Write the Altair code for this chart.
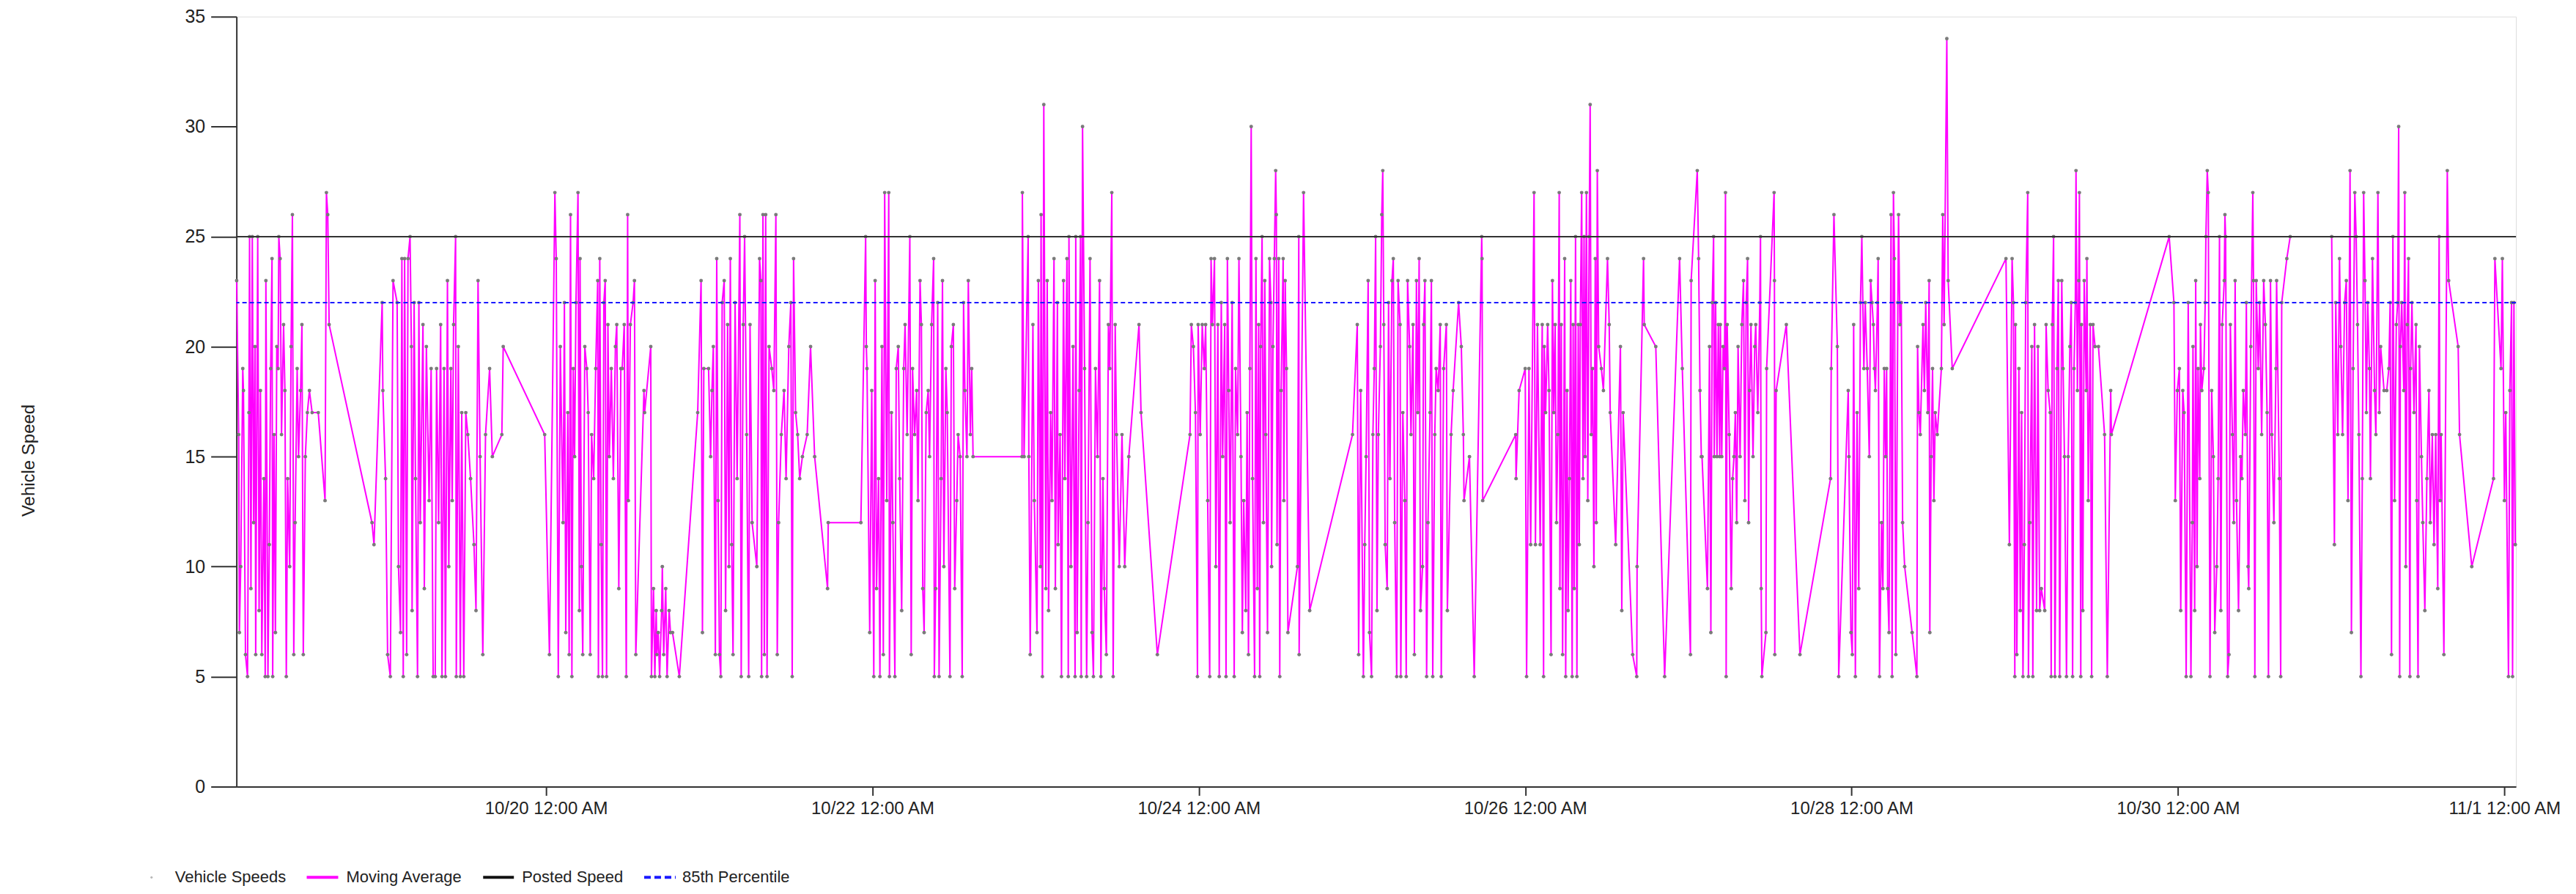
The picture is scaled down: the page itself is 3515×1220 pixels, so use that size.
import altair as alt
import pandas as pd

# ---------------- data (hours since 10/18 00:00, speed) ----------------
START = "2019-10-18T00:00:00"

seg_1018_1019 = [
    (2.5, 23), (2.8, 16), (2.9, 7), (3.1, 10), (3.4, 19), (3.5, 18), (3.8, 6), (4.1, 5), (4.3, 17), (4.4, 25),
    (4.6, 9), (4.8, 25), (5.0, 12), (5.2, 20), (5.3, 6), (5.6, 25), (5.8, 8), (6.0, 18), (6.2, 6), (6.5, 14),
    (6.7, 5), (6.8, 23), (7.1, 5), (7.3, 11), (7.5, 19), (7.7, 24), (7.8, 5), (8.0, 16), (8.2, 7), (8.4, 20),
    (8.6, 19), (8.7, 25), (8.9, 24), (9.1, 16), (9.4, 21), (9.6, 18), (9.8, 5), (10.0, 14), (10.3, 10), (10.5, 20),
    (10.7, 26), (10.9, 6), (11.1, 12), (11.4, 19), (11.6, 15), (11.9, 18), (12.1, 21), (12.3, 6), (12.6, 15), (12.9, 17),
    (13.2, 18), (13.6, 17), (14.5, 17), (15.5, 13), (15.7, 27), (15.9, 26), (16.1, 21),
    (22.4, 12), (22.7, 11), (23.9, 22), (24.0, 18), (24.4, 14), (24.7, 6), (25.1, 5), (25.5, 23), (26.1, 22), (26.3, 10),
    (26.6, 7), (26.8, 24), (27.0, 5), (27.2, 24), (27.5, 6), (27.7, 24), (28.0, 25), (28.2, 20), (28.3, 8), (28.6, 22),
    (28.8, 14), (29.1, 5), (29.3, 22), (29.5, 12), (29.9, 21), (30.1, 9), (30.4, 20), (30.8, 13), (31.1, 19), (31.4, 5),
    (31.7, 5), (31.9, 19), (32.2, 12), (32.5, 21), (32.7, 5), (33.0, 19), (33.2, 5), (33.5, 23), (33.7, 10), (34.0, 19),
    (34.2, 13), (34.4, 21), (34.7, 25), (34.8, 5), (35.1, 20), (35.4, 5), (35.6, 17), (35.9, 5), (36.2, 17), (36.5, 16),
    (36.9, 14), (37.4, 11), (37.7, 8), (38.0, 23), (38.3, 15), (38.7, 6), (39.1, 16), (39.7, 19), (40.1, 15), (41.5, 16),
    (41.7, 20), (47.8, 16), (48.5, 6), (49.3, 27), (49.5, 24), (49.8, 5), (50.1, 20),
]

seg_1020_1021 = [
    (50.5, 12), (50.7, 22), (50.9, 7), (51.2, 17), (51.4, 6), (51.6, 26), (51.8, 5), (52.0, 19), (52.2, 15), (52.4, 22),
    (52.7, 27), (52.9, 8), (53.0, 24), (53.2, 10), (53.4, 6), (53.7, 20), (54.0, 19), (54.2, 17), (54.5, 6), (54.7, 16),
    (55.0, 14), (55.3, 19), (55.6, 23), (55.7, 5), (55.9, 24), (56.1, 11), (56.3, 5), (56.5, 22), (56.7, 23), (56.9, 5),
    (57.1, 21), (57.3, 15), (57.6, 19), (57.9, 14), (58.2, 20), (58.4, 21), (58.7, 9), (59.0, 19), (59.2, 19), (59.5, 21),
    (59.8, 5), (60.0, 26), (60.1, 13), (60.4, 21), (60.8, 22), (61.0, 23), (61.2, 6), (62.4, 18), (62.5, 17), (63.4, 20),
    (63.5, 5), (63.8, 9), (64.0, 5), (64.2, 8), (64.3, 6), (64.5, 7), (64.7, 5), (65.0, 8), (65.1, 10), (65.3, 6),
    (65.6, 9), (65.8, 5), (66.1, 8), (66.3, 7), (66.6, 7), (67.6, 5), (70.3, 17), (70.8, 23), (71.0, 7), (71.2, 19),
    (71.9, 19), (72.2, 15), (72.4, 18), (72.6, 20), (72.9, 6), (73.1, 24), (73.3, 13), (73.5, 6), (73.7, 5), (73.9, 22),
    (74.2, 23), (74.4, 8), (74.7, 21), (74.9, 10), (75.1, 24), (75.3, 11), (75.5, 6), (75.8, 22), (76.1, 14), (76.5, 26),
    (76.7, 5), (77.0, 21), (77.2, 25), (77.5, 16), (77.8, 5), (78.0, 21), (78.3, 12), (79.0, 10), (79.4, 24), (79.6, 23),
    (79.7, 5), (79.9, 26), (80.1, 6), (80.3, 26), (80.5, 5), (80.8, 20), (81.2, 19), (81.5, 18), (81.8, 26), (82.0, 6),
    (82.2, 12), (82.6, 16), (83.0, 18), (83.3, 14), (83.7, 20), (84.0, 22), (84.2, 5), (84.4, 24), (84.7, 17), (85.0, 16),
    (85.3, 14), (85.7, 15), (86.4, 16), (86.9, 20), (87.5, 15), (89.4, 9), (89.5, 12), (94.3, 12), (95.0, 25), (95.1, 20),
    (95.2, 19), (95.6, 7), (95.9, 18), (96.2, 5), (96.4, 23), (96.6, 9), (96.9, 14), (97.1, 5), (97.4, 20), (97.6, 6),
    (97.8, 27), (98.1, 13),
]

seg_1022_1023 = [
    (98.4, 27), (98.5, 5), (98.8, 17), (99.0, 12), (99.3, 5), (99.5, 19), (99.8, 20), (100.0, 14), (100.3, 8), (100.6, 19),
    (100.8, 21), (101.1, 16), (101.5, 25), (101.7, 6), (101.9, 19), (102.2, 16), (102.5, 18), (102.7, 13), (103.0, 23), (103.2, 21),
    (103.4, 9), (103.6, 7), (103.9, 17), (104.2, 18), (104.4, 15), (104.7, 21), (105.0, 24), (105.1, 5), (105.3, 9), (105.6, 22),
    (105.8, 5), (106.1, 14), (106.3, 23), (106.5, 10), (106.8, 19), (107.0, 17), (107.4, 5), (107.6, 20), (107.9, 21), (108.1, 9),
    (108.4, 13), (108.6, 16), (108.9, 15), (109.2, 5), (109.4, 22), (109.6, 18), (109.9, 15), (110.1, 23), (110.4, 16), (110.6, 19),
    (110.8, 15), (118.0, 15), (118.05, 27), (118.3, 15), (118.9, 25), (119.0, 15), (119.2, 6), (119.6, 21), (119.8, 13), (120.2, 7),
    (120.4, 23), (120.7, 10), (120.8, 26), (121.0, 5), (121.2, 31), (121.5, 9), (121.7, 23), (121.9, 8), (122.2, 17), (122.4, 13),
    (122.7, 24), (122.9, 9), (123.2, 22), (123.3, 11), (123.6, 16), (123.8, 5), (124.1, 23), (124.3, 14), (124.6, 24), (124.8, 5),
    (124.9, 25), (125.2, 10), (125.5, 20), (125.8, 5), (125.9, 25), (126.1, 7), (126.4, 18), (126.6, 25), (126.7, 5), (126.9, 30),
    (127.2, 19), (127.5, 5), (127.7, 12), (128.0, 24), (128.3, 7), (128.5, 5), (128.8, 19), (129.1, 15), (129.4, 23), (129.6, 5),
    (129.9, 14), (130.1, 9), (130.4, 6), (130.7, 21), (130.9, 19), (131.2, 27), (131.4, 5), (131.7, 21), (131.9, 16), (132.3, 10),
    (132.7, 16), (133.1, 10), (133.7, 15), (135.2, 21), (135.5, 17), (137.9, 6), (142.7, 16), (142.9, 21), (143.2, 20), (143.5, 17),
    (143.8, 5), (143.9, 21), (144.2, 16), (144.5, 21), (144.8, 19), (145.0, 21), (145.3, 13), (145.6, 5), (145.8, 24), (146.0, 21),
]

seg_1024_1025 = [
    (146.3, 24), (146.5, 10), (146.8, 21), (147.0, 5), (147.3, 22), (147.5, 15), (147.8, 21), (148.0, 5), (148.2, 24), (148.4, 18),
    (148.6, 12), (148.9, 22), (149.2, 5), (149.4, 19), (149.7, 16), (149.9, 24), (150.2, 15), (150.4, 7), (150.6, 13), (150.9, 8),
    (151.1, 17), (151.3, 6), (151.5, 19), (151.7, 30), (151.9, 14), (152.2, 5), (152.4, 24), (152.6, 9), (152.8, 21), (152.95, 5),
    (153.1, 20), (153.3, 25), (153.5, 12), (153.7, 23), (153.85, 16), (154.1, 7), (154.4, 24), (154.6, 22), (154.7, 10), (154.9, 20),
    (155.1, 24), (155.3, 28), (155.4, 26), (155.5, 11), (155.75, 24), (155.9, 5), (156.1, 18), (156.4, 24), (156.5, 13), (156.7, 23),
    (156.9, 19), (157.1, 7), (158.5, 10), (158.7, 25), (158.75, 6), (159.4, 27), (160.3, 8), (166.6, 16), (167.3, 21), (167.5, 6),
    (167.8, 18), (168.2, 5), (168.4, 11), (168.6, 15), (168.9, 23), (169.1, 7), (169.4, 5), (169.6, 16), (169.8, 19), (170.0, 25),
    (170.2, 8), (170.4, 16), (170.7, 20), (170.9, 26), (171.05, 28), (171.2, 21), (171.4, 11), (171.7, 9), (171.9, 22), (172.1, 14),
    (172.4, 23), (172.6, 24), (172.8, 12), (173.1, 5), (173.3, 23), (173.6, 21), (173.7, 5), (174.0, 17), (174.3, 13), (174.5, 5),
    (174.7, 23), (175.0, 20), (175.2, 16), (175.5, 21), (175.7, 6), (176.0, 23), (176.2, 17), (176.4, 24), (176.6, 8), (176.9, 10),
    (177.05, 21), (177.25, 23), (177.5, 5), (177.7, 12), (178.0, 17), (178.2, 23), (178.4, 5), (178.7, 16), (178.9, 19), (179.2, 18),
    (179.5, 21), (179.65, 5), (180.0, 19), (180.4, 21), (180.55, 8), (181.1, 16), (181.4, 18), (182.2, 22), (182.6, 20), (182.9, 16),
    (183.0, 13), (183.8, 15), (184.5, 5), (185.6, 25), (185.65, 24), (185.75, 13), (190.6, 16), (190.65, 14), (191.1, 18), (192.0, 19),
    (192.2, 5), (192.55, 19), (192.8, 11), (193.3, 27), (193.5, 11), (193.8, 21),
]

seg_1026_1027 = [
    (194.2, 11), (194.5, 21), (194.7, 5), (194.8, 20), (195.0, 17), (195.3, 21), (195.5, 18), (195.8, 6), (196.0, 23), (196.2, 17),
    (196.4, 21), (196.6, 12), (196.8, 16), (197.0, 27), (197.1, 9), (197.3, 21), (197.5, 6), (197.8, 24), (197.95, 5), (198.15, 18),
    (198.3, 8), (198.5, 14), (198.7, 23), (198.9, 5), (199.05, 21), (199.2, 9), (199.4, 25), (199.6, 5), (199.8, 21), (199.95, 11),
    (200.1, 21), (200.3, 27), (200.5, 14), (200.65, 25), (200.8, 15), (201.0, 27), (201.2, 13), (201.4, 25), (201.55, 31), (201.7, 16),
    (201.9, 19), (202.1, 10), (202.3, 24), (202.45, 12), (202.6, 28), (202.8, 20), (203.2, 19), (203.5, 18), (204.1, 24), (204.35, 21),
    (204.5, 17), (205.3, 11), (206.0, 20), (206.2, 8), (206.4, 17), (207.8, 6), (208.4, 5), (208.45, 10), (209.4, 24), (209.5, 21),
    (211.2, 20), (212.5, 5), (214.7, 24), (215.1, 19), (216.3, 6), (216.4, 23), (217.3, 28), (217.5, 24), (217.7, 18), (217.9, 15),
    (218.0, 15), (218.8, 9), (219.1, 20), (219.3, 7), (219.5, 22), (219.7, 25), (219.8, 15), (220.0, 22), (220.2, 15), (220.4, 21),
    (220.6, 15), (220.7, 21), (220.9, 15), (221.1, 20), (221.3, 19), (221.45, 27), (221.55, 5), (221.7, 21), (222.0, 16), (222.3, 9),
    (222.5, 14), (222.7, 15), (222.9, 17), (223.1, 12), (223.3, 20), (223.6, 15), (223.85, 21), (224.1, 23), (224.3, 13), (224.5, 22),
    (224.7, 24), (224.85, 12), (225.0, 18), (225.2, 21), (225.5, 15), (225.75, 20), (225.9, 21), (226.2, 17), (226.5, 22), (226.6, 25),
    (226.7, 9), (226.8, 5), (227.4, 7), (227.5, 19), (228.6, 27), (228.65, 23), (228.7, 6), (228.9, 18), (230.4, 21), (232.4, 6),
    (236.9, 14), (237.0, 19), (237.4, 26), (237.9, 20), (238.1, 5), (239.5, 18), (239.6, 15), (239.9, 7), (240.1, 6), (240.3, 21),
    (240.55, 5), (240.8, 17), (241.05, 9), (241.3, 22), (241.5, 25), (241.8, 19),
]

seg_1028_1029 = [
    (242.0, 22), (242.3, 19), (242.6, 15), (242.8, 23), (243.0, 22), (243.2, 21), (243.35, 19), (243.5, 18), (243.8, 22), (243.9, 24),
    (244.1, 5), (244.4, 12), (244.6, 9), (244.8, 19), (245.0, 15), (245.15, 19), (245.3, 9), (245.5, 7), (245.8, 26), (245.95, 5),
    (246.15, 27), (246.3, 24), (246.5, 6), (246.8, 22), (246.9, 26), (247.1, 21), (247.3, 22), (247.5, 12), (247.8, 10), (248.9, 7),
    (249.6, 5), (249.7, 20), (249.9, 17), (250.1, 16), (250.5, 21), (250.7, 18), (250.9, 22), (251.2, 17), (251.4, 23), (251.5, 7),
    (251.7, 15), (251.9, 19), (252.1, 13), (252.3, 17), (252.6, 16), (253.2, 19), (253.4, 26), (253.6, 21), (254.0, 34), (254.2, 23),
    (254.8, 19), (262.7, 24), (263.2, 11), (263.6, 24), (263.8, 22), (264.0, 5), (264.1, 21), (264.3, 6), (264.6, 19), (264.8, 8),
    (265.0, 17), (265.2, 5), (265.4, 11), (265.6, 22), (265.9, 27), (266.0, 5), (266.2, 12), (266.5, 20), (266.65, 5), (266.9, 21),
    (267.2, 8), (267.4, 20), (267.65, 8), (267.9, 9), (268.4, 8), (268.6, 21), (268.9, 18), (269.2, 17), (269.35, 5), (269.5, 21),
    (269.7, 25), (269.9, 5), (270.2, 19), (270.4, 23), (270.6, 5), (270.9, 23), (271.1, 19), (271.3, 15), (271.6, 5), (271.85, 15),
    (272.1, 20), (272.3, 22), (272.5, 5), (272.7, 19), (272.9, 22), (273.0, 28), (273.2, 18), (273.4, 23), (273.5, 27), (273.7, 5),
    (273.8, 21), (274.0, 8), (274.2, 23), (274.5, 18), (274.6, 24), (274.8, 13), (275.1, 21), (275.3, 5), (275.5, 21), (275.8, 20),
    (276.3, 20), (277.2, 16), (277.6, 5), (278.1, 18), (278.2, 16), (286.7, 25), (287.4, 22), (287.6, 13), (287.9, 18), (288.2, 19),
    (288.4, 8), (288.7, 18), (288.9, 17), (289.2, 5), (289.5, 22),
]

seg_1030_1101 = [
    (289.9, 5), (290.1, 12), (290.2, 20), (290.45, 8), (290.6, 23), (290.8, 10), (290.95, 19), (291.2, 14), (291.3, 21), (291.5, 18),
    (291.8, 19), (292.0, 22), (292.1, 25), (292.3, 28), (292.45, 27), (292.7, 5), (292.95, 18), (293.2, 15), (293.4, 7), (293.7, 10),
    (293.9, 14), (294.1, 25), (294.3, 8), (294.5, 21), (294.8, 23), (294.9, 26), (295.0, 25), (295.3, 5), (295.5, 6), (295.7, 21),
    (296.0, 16), (296.2, 12), (296.4, 23), (296.6, 13), (296.9, 8), (297.2, 15), (297.4, 14), (297.6, 18), (297.9, 16), (298.05, 22),
    (298.3, 10), (298.4, 9), (298.7, 20), (299.0, 27), (299.1, 23), (299.3, 5), (299.5, 23), (299.8, 19), (300.0, 22), (300.3, 16),
    (300.6, 23), (300.85, 21), (301.1, 17), (301.3, 5), (301.6, 23), (301.8, 16), (302.1, 12), (302.4, 19), (302.5, 23), (302.9, 14),
    (303.1, 5), (303.25, 22), (304.0, 24), (304.5, 25), (310.6, 25), (311.0, 11), (311.2, 22), (311.5, 16), (311.75, 24), (311.95, 20),
    (312.2, 16), (312.5, 22), (312.75, 23), (313.0, 13), (313.3, 28), (313.5, 7), (313.75, 19), (314.0, 27), (314.2, 25), (314.4, 21),
    (314.6, 16), (314.9, 5), (315.1, 14), (315.3, 27), (315.5, 23), (315.7, 17), (315.9, 22), (316.15, 19), (316.3, 14), (316.6, 24),
    (316.9, 18), (317.1, 16), (317.4, 27), (317.6, 17), (317.8, 20), (318.3, 18), (318.7, 18), (319.0, 19), (319.2, 22), (319.4, 6),
    (319.6, 25), (319.85, 13), (320.1, 21), (320.3, 22), (320.45, 30), (320.6, 5), (320.7, 20), (320.9, 22), (321.2, 18), (321.35, 27),
    (321.5, 10), (321.7, 21), (321.9, 24), (322.1, 5), (322.2, 19), (322.4, 22), (322.7, 17), (323.0, 21), (323.1, 13), (323.3, 5),
    (323.5, 20), (323.8, 15), (324.0, 12), (324.3, 8), (324.6, 14), (324.9, 18), (325.1, 12), (325.4, 16), (325.65, 11), (325.9, 16),
    (326.2, 9), (326.4, 25), (326.55, 13), (326.7, 16), (327.1, 6), (327.6, 28), (327.8, 23), (329.2, 20), (329.4, 16), (331.2, 10),
    (334.4, 14), (334.6, 24), (335.5, 19), (335.7, 24), (336.0, 13), (336.2, 17), (336.6, 5), (336.8, 18), (337.05, 22), (337.2, 5),
    (337.4, 22), (337.6, 11),
]

posted_speed = 25
percentile_85 = 22
x_domain_hours = [2.47, 337.7]
tick_dates = ["2019-10-20", "2019-10-22", "2019-10-24", "2019-10-26", "2019-10-28", "2019-10-30", "2019-11-01"]
y_ticks = [0, 5, 10, 15, 20, 25, 30, 35]
legend_labels = ["Vehicle Speeds", "Moving Average", "Posted Speed", "85th Percentile"]
y_title = "Vehicle Speed"

# ---------------- build table ----------------
pairs = (seg_1018_1019 + seg_1020_1021 + seg_1022_1023 + seg_1024_1025
         + seg_1026_1027 + seg_1028_1029 + seg_1030_1101)
base = pd.Timestamp(START, tz="UTC")


def to_ms(h):
    return int((base + pd.Timedelta(hours=h)).value // 10**6)


df = pd.DataFrame({
    "t": [to_ms(h) for h, _ in pairs],
    "speed": [s for _, s in pairs],
    "idx": list(range(len(pairs))),
})
tick_ms = [int(pd.Timestamp(d, tz="UTC").value // 10**6) for d in tick_dates]
dom = [to_ms(h) for h in x_domain_hours]

FONT = "Liberation Sans"
W, H = 3114, 1052

x_enc = alt.X(
    "t:T",
    scale=alt.Scale(type="utc", domain=dom, nice=False),
    axis=alt.Axis(
        values=tick_ms,
        labelExpr="utcFormat(datum.value, '%-m/%-d %I:%M %p')",
        title=None, grid=False, tickSize=12, tickWidth=2, tickColor="#333",
        domainColor="#333", domainWidth=2, labelFontSize=24, labelFont=FONT,
        labelColor="#222", labelPadding=6, labelFlush=False, labelOverlap=False,
        labelBound=False,
    ),
)
y_enc = alt.Y(
    "speed:Q",
    scale=alt.Scale(domain=[0, 35], nice=False, zero=True),
    axis=alt.Axis(
        values=y_ticks, grid=False, tickSize=35, tickWidth=2, tickColor="#333",
        domainColor="#333", domainWidth=2, labelFontSize=25, labelFont=FONT,
        labelColor="#222", labelPadding=8,
        title=y_title, titleFont=FONT, titleFontSize=24, titleFontWeight="normal",
        titleColor="#222", titleAngle=270, titleX=-283, titleY=606,
        titleAlign="center", titleBaseline="middle",
    ),
)

line = alt.Chart(df).mark_line(color="#FF00FF", strokeWidth=2).encode(
    x=x_enc, y=y_enc, order="idx:Q"
)
points = alt.Chart(df).mark_point(filled=True, color="#7a7a7a", size=24, opacity=1).encode(
    x=x_enc, y=y_enc
)

one = pd.DataFrame({"k": [0]})
posted = alt.Chart(one).mark_rule(color="#333333", strokeWidth=2).encode(y=alt.datum(posted_speed))
pct = alt.Chart(one).mark_rule(color="#1a1aff", strokeWidth=2, strokeDash=[6, 4]).encode(
    y=alt.datum(percentile_85)
)

LY = 1176
leg_dot = alt.Chart(one).mark_point(filled=True, color="#9a9a9a", size=10).encode(
    x=alt.value(-116), y=alt.value(LY)
)
leg_mag = alt.Chart(one).mark_rule(color="#FF00FF", strokeWidth=4).encode(
    x=alt.value(96), x2=alt.value(139), y=alt.value(LY)
)
leg_blk = alt.Chart(one).mark_rule(color="#111111", strokeWidth=4).encode(
    x=alt.value(337), x2=alt.value(379), y=alt.value(LY)
)
leg_blu = alt.Chart(one).mark_rule(color="#1a1aff", strokeWidth=4, strokeDash=[9, 5]).encode(
    x=alt.value(557), x2=alt.value(600), y=alt.value(LY)
)
leg_text_x = [-84, 150, 390, 609]
leg_texts = [
    alt.Chart(one).mark_text(align="left", baseline="middle", fontSize=22, font=FONT, color="#222").encode(
        x=alt.value(lx), y=alt.value(LY), text=alt.value(lab)
    )
    for lx, lab in zip(leg_text_x, legend_labels)
]

chart = alt.layer(
    line, points, posted, pct, leg_dot, leg_mag, leg_blk, leg_blu, *leg_texts
).properties(
    width=W, height=H,
    autosize=alt.AutoSizeParams(type="none"),
    padding={"left": 315, "top": 14, "right": 74, "bottom": 138},
).configure_view(stroke=None).configure(background="white")

chart.save("out.html", embed_options={"renderer": "svg", "actions": False})
